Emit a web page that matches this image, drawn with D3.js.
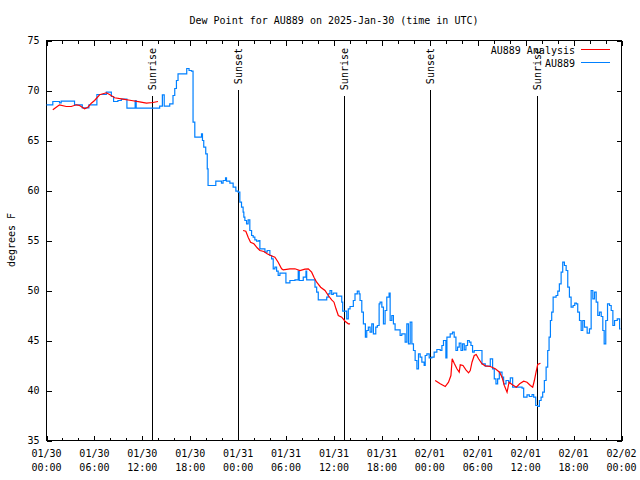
<!DOCTYPE html>
<html><head><meta charset="utf-8">
<script src="https://cdn.jsdelivr.net/npm/d3@7"></script>
<style>
html,body{margin:0;padding:0;background:#fff;}
svg{display:block;}
text{font-family:"DejaVu Sans Mono",monospace;font-size:10px;fill:#000;}
</style></head>
<body>
<script>
// ---- data (hours since 2025-01-30 00:00 UTC) ----
const titleText = "Dew Point for AU889 on 2025-Jan-30 (time in UTC)";
const yLabelText = "degrees F";
const seriesNames = ["AU889 Analysis", "AU889"];
const seriesColors = ["#ff0000", "#0080ff"];
const yTickValues = [35, 40, 45, 50, 55, 60, 65, 70, 75];
const xMajorHours = [0, 6, 12, 18, 24, 30, 36, 42, 48, 54, 60, 66, 72];
const xMinorHours = [2, 4, 8, 10, 14, 16, 20, 22, 26, 28, 32, 34, 38, 40, 44, 46, 50, 52, 56, 58, 62, 64, 68, 70];
const eventNames = ["Sunrise", "Sunset", "Sunrise", "Sunset", "Sunrise"];
const eventHours = [13.21, 24.0, 37.30, 47.96, 61.38];

const obsHours = [0.00,0.79,1.63,1.84,3.51,4.48,5.31,6.31,7.49,8.12,8.40,8.94,9.37,10.07,11.10,11.23,14.17,14.51,14.74,15.43,15.84,16.06,16.27,16.47,17.56,17.85,18.15,18.35,18.57,19.41,19.53,19.69,19.94,20.13,20.23,21.20,21.91,22.11,22.42,22.54,22.96,23.37,23.71,24.00,24.21,24.42,24.62,24.71,24.84,25.05,25.25,25.46,25.68,25.88,26.09,26.31,26.59,26.72,27.35,27.63,27.97,28.19,28.39,28.60,28.81,29.01,29.23,29.98,30.48,31.11,31.52,31.65,32.15,32.49,32.58,33.62,33.83,34.03,35.09,35.29,35.50,35.71,35.91,36.34,36.97,37.09,37.59,37.79,38.01,38.42,38.63,38.92,39.14,39.26,39.48,39.68,39.93,40.10,40.30,40.52,40.73,40.93,41.23,41.43,41.65,41.77,41.99,42.19,42.40,42.61,42.90,43.03,43.24,43.44,43.65,44.28,44.49,44.91,45.12,45.32,45.54,45.75,45.95,46.16,46.38,46.58,46.79,47.00,47.29,47.42,47.63,47.92,48.25,48.54,48.88,49.30,49.51,49.71,50.01,50.14,50.55,50.84,51.05,51.27,51.47,51.68,51.90,52.10,52.31,52.52,52.72,52.94,53.15,53.35,53.56,54.53,54.94,55.57,55.86,56.07,56.28,56.49,56.70,57.04,57.24,57.54,57.87,58.08,58.37,59.55,59.75,60.17,60.46,60.80,61.00,61.26,61.51,61.72,61.93,62.13,62.34,62.56,62.76,62.93,63.10,63.26,63.44,63.81,64.02,64.22,64.44,64.64,64.85,65.07,65.27,65.48,65.69,65.94,66.15,66.36,66.52,66.74,66.95,67.15,67.36,67.70,67.99,68.20,68.41,68.62,68.83,69.03,69.24,69.46,69.66,69.83,70.03,70.25,70.50,70.71,70.92,71.13,71.47,71.76,71.88];
const obsValues = [68.57,68.90,68.77,68.93,68.57,68.27,68.57,69.60,69.83,69.40,68.90,69.00,69.13,68.23,69.00,68.23,68.43,69.57,68.43,68.67,69.50,70.20,71.00,71.67,72.20,72.00,71.93,66.83,65.33,65.67,65.00,64.33,63.67,62.17,60.50,60.93,60.73,61.00,61.27,60.93,60.73,60.33,59.93,59.83,58.83,58.33,57.83,57.33,57.00,56.67,57.07,56.00,55.50,55.33,55.07,54.93,55.00,54.17,53.83,54.00,53.50,53.17,52.17,52.33,51.93,51.50,51.73,50.77,51.00,51.07,51.93,51.00,51.33,51.93,51.07,50.33,49.83,49.07,49.33,49.67,50.00,49.60,49.73,49.43,48.83,47.93,47.17,48.17,48.40,49.00,49.67,49.93,49.67,49.00,47.83,46.67,45.33,46.00,46.33,45.83,46.67,45.67,46.33,46.50,48.67,48.83,48.33,46.67,48.00,49.33,49.73,47.00,47.50,46.67,46.07,45.50,45.67,44.83,46.67,44.67,46.83,44.67,44.00,43.00,42.17,43.67,43.33,42.83,42.50,43.50,43.67,43.27,43.33,43.83,44.10,44.00,44.50,45.00,43.27,45.33,45.67,45.83,45.33,44.00,44.33,44.73,44.00,44.67,44.07,44.50,45.00,44.83,44.50,43.83,44.00,42.67,42.43,43.17,42.17,41.17,40.67,41.17,41.83,41.33,40.67,41.00,40.83,41.27,40.33,40.23,39.33,39.57,39.40,39.60,39.33,38.50,38.40,39.00,39.33,39.83,41.00,42.33,44.00,45.33,47.00,47.83,49.33,49.50,49.93,50.67,51.83,52.83,52.50,52.00,50.33,49.33,48.33,48.50,48.73,48.67,47.83,47.00,46.00,47.00,46.33,45.73,46.17,50.00,49.17,49.83,48.83,47.50,47.83,47.40,46.00,44.67,47.00,48.67,48.50,48.00,46.50,47.00,47.17,46.17,46.17];

// analysis series, null separates segments
const anaHours = [0.79,1.22,1.63,2.47,3.10,3.73,4.14,4.77,5.18,5.61,6.02,6.65,7.49,7.90,8.53,9.57,10.62,11.67,12.51,13.33,13.96,null,
  24.62,24.96,25.25,25.55,25.97,26.38,26.72,27.22,27.63,28.06,28.60,29.01,29.44,29.64,30.48,31.11,31.74,32.36,32.78,33.20,33.49,33.83,34.33,34.87,35.29,35.71,36.00,36.25,36.54,36.97,37.38,37.79,38.01,null,
  48.67,49.30,49.93,50.34,50.64,50.80,51.05,51.39,51.68,51.81,52.15,52.52,52.85,53.06,53.28,53.56,53.81,54.10,54.53,54.94,55.57,56.20,56.73,57.04,57.33,57.67,57.92,58.29,58.83,59.25,59.75,60.17,60.59,60.88,61.09,61.30,61.51,61.85];
const anaValues = [68.07,68.33,68.57,68.40,68.40,68.57,68.50,68.17,68.33,68.73,69.00,69.57,69.77,69.60,69.27,69.13,69.00,68.87,68.73,68.80,68.90,null,
  56.00,55.93,55.33,54.83,54.67,54.27,54.00,53.90,53.67,53.50,53.33,52.83,52.17,52.07,52.17,52.17,52.00,52.13,52.17,51.83,51.33,50.83,50.33,50.00,49.50,49.07,48.83,48.17,47.50,47.33,46.93,46.67,46.67,null,
  41.00,40.67,40.40,40.83,41.50,43.17,42.73,42.17,41.83,42.57,42.50,42.07,41.77,42.00,42.83,43.50,43.60,43.17,42.67,42.47,42.40,42.17,41.83,41.33,40.50,39.83,40.83,40.60,40.33,40.67,40.93,40.83,40.50,40.33,41.00,41.83,42.60,42.73];

// ---- chart ----
const W = 640, H = 480;
const t0 = Date.UTC(2025, 0, 30);
const toDate = h => new Date(t0 + h * 3600e3);
const svg = d3.select("body").append("svg").attr("width", W).attr("height", H);

const x = d3.scaleUtc().domain([toDate(0), toDate(72)]).range([46.5, 621.5]);
const y = d3.scaleLinear().domain([35, 75]).range([440.5, 40.5]);

// axes with inward ticks
function styleAxis(g){ g.select(".domain").remove(); g.selectAll("line").attr("stroke","#000").attr("shape-rendering","crispEdges"); }
svg.append("g").attr("transform","translate(46.5,0)")
  .call(d3.axisLeft(y).tickValues(yTickValues).tickSize(-5).tickPadding(7).tickFormat(d3.format("d")))
  .call(styleAxis).call(g=>g.selectAll("text").style("font-family","DejaVu Sans Mono").style("font-size","10px"));
svg.append("g").attr("transform","translate(621.5,0)")
  .call(d3.axisRight(y).tickValues(yTickValues).tickSize(-5).tickFormat(""))
  .call(styleAxis);
svg.append("g").attr("transform","translate(0,440.5)")
  .call(d3.axisBottom(x).tickValues(xMajorHours.map(toDate)).tickSize(-5).tickFormat(""))
  .call(styleAxis);
svg.append("g").attr("transform","translate(0,440.5)")
  .call(d3.axisBottom(x).tickValues(xMinorHours.map(toDate)).tickSize(-3).tickFormat(""))
  .call(styleAxis);
svg.append("g").attr("transform","translate(0,40.5)")
  .call(d3.axisTop(x).tickValues(xMajorHours.map(toDate)).tickSize(-5).tickFormat(""))
  .call(styleAxis);
svg.append("g").attr("transform","translate(0,40.5)")
  .call(d3.axisTop(x).tickValues(xMinorHours.map(toDate)).tickSize(-3).tickFormat(""))
  .call(styleAxis);

// x tick labels (two lines)
const fmtD = d3.utcFormat("%m/%d"), fmtT = d3.utcFormat("%H:%M");
const xl = svg.append("g").selectAll("text").data(xMajorHours.map(toDate)).join("text")
  .attr("text-anchor","middle").attr("transform", d => `translate(${x(d)},0)`);
xl.append("tspan").attr("x",0).attr("y",457).text(d => fmtD(d));
xl.append("tspan").attr("x",0).attr("y",471).text(d => fmtT(d));

// border
svg.append("rect").attr("x",46.5).attr("y",40.5).attr("width",575).attr("height",400)
  .attr("fill","none").attr("stroke","#000").attr("shape-rendering","crispEdges");

// title and y label
svg.append("text").attr("x",334).attr("y",24).attr("text-anchor","middle").text(titleText);
svg.append("text").attr("transform","translate(15,240) rotate(-90)").attr("text-anchor","middle").text(yLabelText);

// event lines and labels
eventHours.forEach((h, i) => {
  const ex = Math.round(x(toDate(h))) + 0.5;
  const t = svg.append("text").attr("transform", `translate(${ex+3.5},48) rotate(-90)`)
    .attr("text-anchor","end").text(eventNames[i]);
  const len = t.node().getComputedTextLength();
  svg.append("line").attr("x1",ex).attr("x2",ex).attr("y1",48+len+6).attr("y2",y(35))
    .attr("stroke","#000").attr("shape-rendering","crispEdges");
});

// observation series (stepped)
const obs = obsHours.map((h,i)=>({d:toDate(h), v:obsValues[i]}));
svg.append("path").datum(obs)
  .attr("d", d3.line().x(d=>x(d.d)).y(d=>y(d.v)).curve(d3.curveStepAfter))
  .attr("fill","none").attr("stroke",seriesColors[1]).attr("stroke-width",1.2);

// analysis series
const ana = anaHours.map((h,i)=>({d: h===null?null:toDate(h), v:anaValues[i]}));
svg.append("path").datum(ana)
  .attr("d", d3.line().defined(d=>d.d!==null).x(d=>x(d.d)).y(d=>y(d.v)))
  .attr("fill","none").attr("stroke",seriesColors[0]).attr("stroke-width",1.2);

// legend
seriesNames.forEach((name,i)=>{
  const ly = 50 + i*13;
  svg.append("text").attr("x",575).attr("y",ly+3.5).attr("text-anchor","end").text(name);
  svg.append("line").attr("x1",581).attr("x2",610).attr("y1",ly-0.5).attr("y2",ly-0.5)
    .attr("stroke",seriesColors[i]).attr("stroke-width",1).attr("shape-rendering","crispEdges");
});
</script>
</body></html>
